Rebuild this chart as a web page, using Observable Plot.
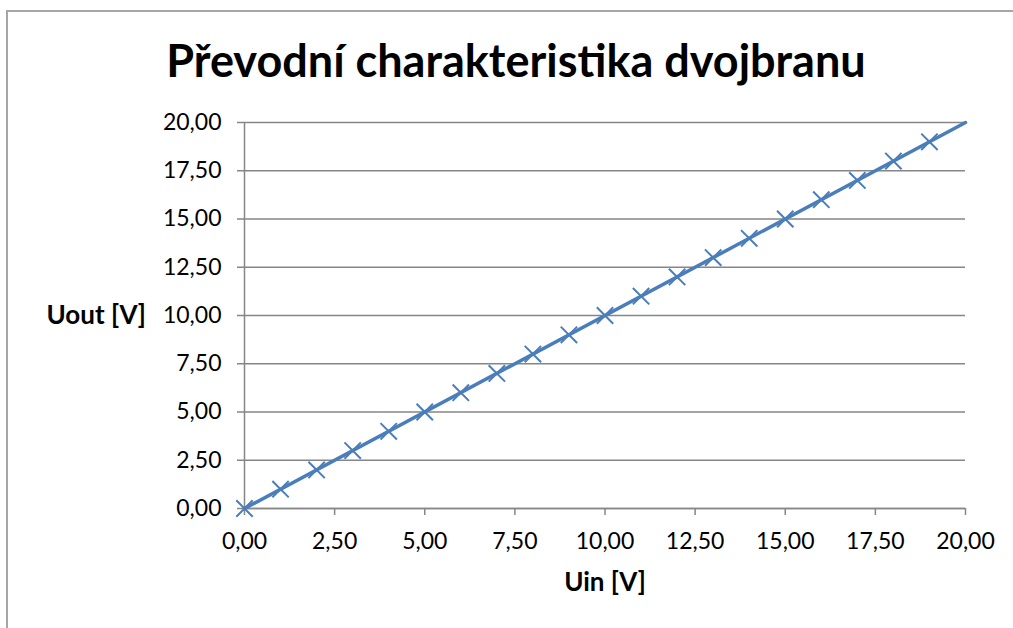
<!DOCTYPE html>
<html>
<head>
<meta charset="utf-8">
<script src="https://cdn.jsdelivr.net/npm/d3@7"></script>
<script src="https://cdn.jsdelivr.net/npm/@observablehq/plot@0.6"></script>
<style>
  html, body { margin: 0; padding: 0; background: #fff; overflow: hidden; }
  #page { position: relative; width: 1013px; height: 628px; overflow: hidden; font-family: Lato, "DejaVu Sans", sans-serif; }
  #hline { position: absolute; left: 6px; top: 10px; width: 1007px; height: 2px; background: #a6a6a6; }
  #vline { position: absolute; left: 6px; top: 10px; width: 2px; height: 618px; background: #a6a6a6; }
  #title { position: absolute; left: 0; top: 0; width: 1032px; height: 100px; text-align: center; font-weight: 700; font-size: 45px; line-height: 1; padding-top: 38px; box-sizing: border-box; color: #000; white-space: nowrap; }
  #chart { position: absolute; left: 0; top: 100px; }
</style>
</head>
<body>
<div id="page">
  <div id="hline"></div>
  <div id="vline"></div>
  <div id="title">Převodní charakteristika dvojbranu</div>
  <div id="chart"></div>
</div>
<script>
const uin = [0, 1, 2, 3, 4, 5, 6, 7, 8, 9, 10, 11, 12, 13, 14, 15, 16, 17, 18, 19];
const uout = [0, 1, 2, 3, 4, 5, 6, 7, 8, 9, 10, 11, 12, 13, 14, 15, 16, 17, 18, 19];
const lineUin = [0, 20];
const lineUout = [0, 20];
const ticks = [0, 2.5, 5, 7.5, 10, 12.5, 15, 17.5, 20];
const xLabel = "Uin [V]";
const yLabel = "Uout [V]";

const points = uin.map((x, i) => ({x, y: uout[i]}));
const linePts = lineUin.map((x, i) => ({x, y: lineUout[i]}));
const fmt = d => d.toFixed(2).replace(".", ",");
const blue = "#4a7ebb";
const grid = "#868686";

const chart = Plot.plot({
  width: 1013,
  height: 528,
  marginLeft: 244,
  marginRight: 48,
  marginTop: 22,
  marginBottom: 120,
  style: {fontFamily: "Lato, sans-serif", color: "#000", background: "transparent"},
  x: {domain: [0, 20]},
  y: {domain: [0, 20]},
  marks: [
    Plot.gridY(ticks, {stroke: grid, strokeOpacity: 1, strokeWidth: 1.5}),
    Plot.ruleX([0], {stroke: grid, strokeWidth: 1.5}),
    Plot.ruleY([0], {stroke: grid, strokeWidth: 1.5}),
    Plot.axisY(ticks, {tickFormat: fmt, tickSize: 7, tickPadding: 16, fontSize: 23, stroke: grid, strokeWidth: 1.5, label: null, fill: "#000"}),
    Plot.axisX(ticks, {tickFormat: fmt, tickSize: 7, tickPadding: 17, fontSize: 23, stroke: grid, strokeWidth: 1.5, label: null, fill: "#000"}),
    Plot.line(linePts, {x: "x", y: "y", stroke: blue, strokeWidth: 3.5}),
    Plot.dot(points, {x: "x", y: "y", symbol: "times", r: 7.5, stroke: blue, strokeWidth: 2}),
    Plot.text([yLabel], {frameAnchor: "left", dx: -198, textAnchor: "start", fontSize: 26, fontWeight: 700, fill: "#000"}),
    Plot.text([xLabel], {frameAnchor: "bottom", dy: 82, fontSize: 26, fontWeight: 700, fill: "#000"})
  ]
});
document.getElementById("chart").appendChild(chart);
</script>
</body>
</html>
